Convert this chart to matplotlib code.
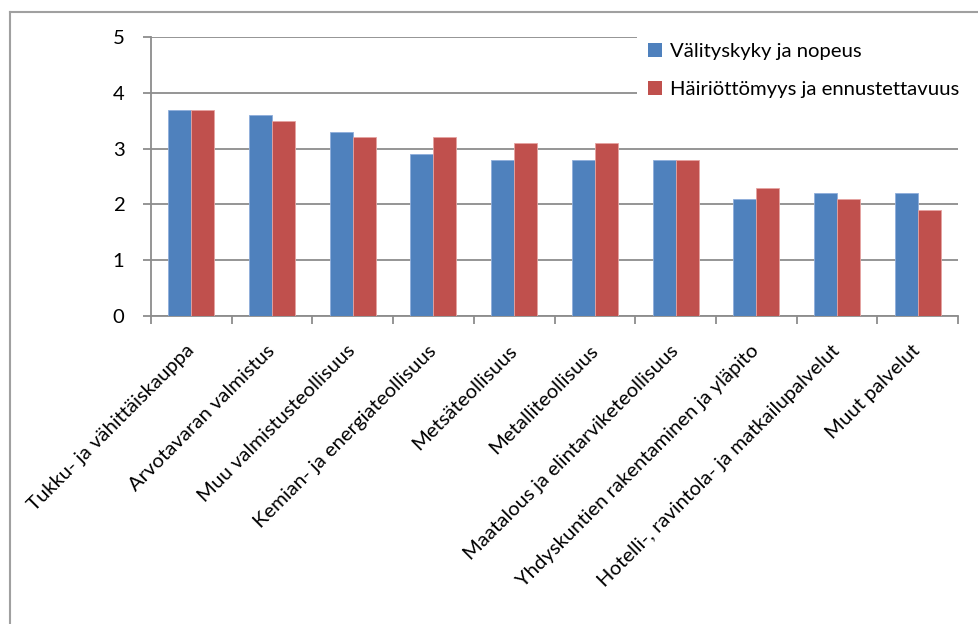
import matplotlib
matplotlib.use("Agg")
import matplotlib.pyplot as plt
from matplotlib.patches import Patch
from matplotlib.lines import Line2D
import numpy as np

categories = [
    "Tukku- ja vähittäiskauppa",
    "Arvotavaran valmistus",
    "Muu valmistusteollisuus",
    "Kemian- ja energiateollisuus",
    "Metsäteollisuus",
    "Metalliteollisuus",
    "Maatalous ja elintarviketeollisuus",
    "Yhdyskuntien rakentaminen ja yläpito",
    "Hotelli-, ravintola- ja matkailupalvelut",
    "Muut palvelut",
]
series_names = ["Välityskyky ja nopeus", "Häiriöttömyys ja ennustettavuus"]
valityskyky = [3.7, 3.6, 3.3, 2.9, 2.8, 2.8, 2.8, 2.1, 2.2, 2.2]
hairiottomyys = [3.7, 3.5, 3.2, 3.2, 3.1, 3.1, 2.8, 2.3, 2.1, 1.9]
y_ticks = [0, 1, 2, 3, 4, 5]

BLUE = "#4F81BD"
RED = "#C0504D"
GRID = "#8C8C8C"
FONT = "Lato"
FS = 14.6

W, H = 979, 624
fig = plt.figure(figsize=(W / 100, H / 100), dpi=100)
fig.patch.set_facecolor("white")

left, right, bottom, top = 151, 958, 316, 37
ax = fig.add_axes([left / W, 1 - bottom / H, (right - left) / W, (bottom - top) / H])

x = np.arange(len(categories))
bw = 0.285
ax.bar(x - bw / 2, valityskyky, bw, color=BLUE, edgecolor="#8FAEDB", linewidth=0.6, zorder=3)
ax.bar(x + bw / 2, hairiottomyys, bw, color=RED, edgecolor="#E6A3A1", linewidth=0.6, zorder=3)

ax.set_xlim(-0.5, len(categories) - 0.5)
ax.set_ylim(0, 5)
ax.set_yticks(y_ticks)
ax.set_yticklabels([str(v) for v in y_ticks], fontfamily=FONT, fontsize=FS)

# category ticks sit on the boundaries between groups
ax.set_xticks(np.arange(len(categories) + 1) - 0.5, minor=False)
ax.set_xticklabels([])
ax.set_xticks(x, minor=True)
ax.set_xticklabels(categories, minor=True, rotation=45, ha="right", va="center",
                   rotation_mode="anchor", fontfamily=FONT, fontsize=FS)
ax.tick_params(axis="x", which="minor", length=0, pad=23)
ax.tick_params(axis="x", which="major", length=6, width=1.3, color=GRID)
ax.tick_params(axis="y", length=6, width=1.3, color=GRID, pad=13)

ax.yaxis.grid(True, color=GRID, linewidth=1.3, zorder=0)
ax.set_axisbelow(True)
for s in ["top", "right"]:
    ax.spines[s].set_visible(False)
ax.spines["left"].set_color(GRID)
ax.spines["left"].set_linewidth(1.3)
ax.spines["bottom"].set_color(GRID)
ax.spines["bottom"].set_linewidth(1.3)

handles = [Patch(facecolor=BLUE, edgecolor="none"), Patch(facecolor=RED, edgecolor="none")]
leg = fig.legend(handles, series_names, loc="upper left",
                 bbox_to_anchor=(627 / W, 1 - 22 / H), frameon=True, fancybox=False,
                 facecolor="white", edgecolor="white", framealpha=1,
                 prop={"family": FONT, "size": FS}, handlelength=0.7, handleheight=0.7,
                 handletextpad=0.35, labelspacing=1.0, borderpad=0.55)
leg.get_frame().set_linewidth(0)

# outer chart frame (top and left edges)
fig.add_artist(Line2D([10 / W, 10 / W], [0, 1 - 12 / H], color="#A0A0A0", linewidth=1.5))
fig.add_artist(Line2D([10 / W, 1], [1 - 12 / H, 1 - 12 / H], color="#A0A0A0", linewidth=1.5))

fig.savefig("out.png", dpi=100, facecolor="white")
